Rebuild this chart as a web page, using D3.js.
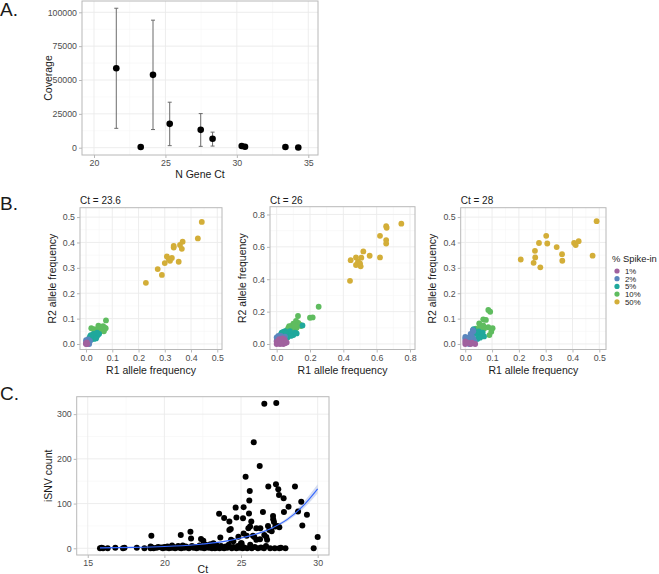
<!DOCTYPE html>
<html><head><meta charset="utf-8">
<script src="https://cdn.jsdelivr.net/npm/d3@7"></script>
<style>body{margin:0;background:#fff}svg{display:block;font-family:"Liberation Sans",Arial,sans-serif}</style>
</head><body><svg id="c" width="659" height="574"></svg>
<script>
// ---------- Panel A data ----------
const aCt  = [21.56, 23.27, 24.13, 25.3, 27.47, 28.3, 30.34, 30.57, 33.4, 34.3];
const aCov = [58700, 500, 53800, 17600, 13200, 6600, 1300, 700, 500, 200];
const aLo  = [14300, null, 13400, 1500, 1000, 1200, null, null, null, null];
const aHi  = [103000, null, 94200, 33600, 25200, 11500, null, null, null, null];
const aXTicks = [20, 25, 30, 35];
const aYTicks = [0, 25000, 50000, 75000, 100000];

// ---------- Panel B data ----------
const spikeLevels = ["1%", "2%", "5%", "10%", "50%"];
const spikeColors = ["#A0619E", "#5A86BD", "#1FA89C", "#5FBC5F", "#D3AE38"];
const b1Titles = ["Ct = 23.6", "Ct = 26", "Ct = 28"];
// Ct = 23.6
const b1_50 = [[0.441,0.481],[0.426,0.416],[0.368,0.403],[0.358,0.39],[0.334,0.386],[0.334,0.38],[0.365,0.375],[0.308,0.345],[0.327,0.339],[0.315,0.335],[0.32,0.328],[0.30,0.319],[0.353,0.324],[0.273,0.295],[0.289,0.272],[0.228,0.241]];
const b1_10 = [[0.076,0.093],[0.047,0.072],[0.055,0.068],[0.065,0.07],[0.07,0.065],[0.02,0.062],[0.03,0.058],[0.06,0.055],[0.068,0.05],[0.045,0.06],[0.04,0.052],[0.075,0.062],[0.035,0.045],[0.05,0.048]];
const b1_5  = [[0.015,0.03],[0.02,0.025],[0.025,0.035],[0.03,0.03],[0.035,0.04],[0.04,0.028],[0.045,0.035],[0.03,0.02],[0.02,0.018],[0.01,0.02],[0.038,0.022],[0.028,0.04],[0.018,0.035],[0.042,0.045],[0.05,0.04]];
const b1_2  = [[0.0,0.015],[0.005,0.01],[0.01,0.005],[0.012,0.0],[0.0,0.005],[0.008,0.018],[0.015,0.012]];
const b1_1  = [[0.0,0.0],[0.002,0.002],[0.005,0.0],[0.0,0.003],[0.003,0.006]];
// Ct = 26
const b2_50 = [[0.748,0.743],[0.657,0.728],[0.66,0.718],[0.62,0.668],[0.657,0.642],[0.657,0.62],[0.52,0.572],[0.558,0.545],[0.476,0.535],[0.62,0.535],[0.444,0.518],[0.508,0.533],[0.488,0.508],[0.476,0.488],[0.5,0.498],[0.504,0.48],[0.44,0.39]];
const b2_10 = [[0.252,0.23],[0.2,0.162],[0.216,0.164],[0.128,0.173],[0.116,0.142],[0.13,0.13],[0.146,0.111],[0.088,0.111],[0.11,0.09],[0.07,0.1],[0.1,0.125],[0.062,0.085],[0.09,0.105],[0.12,0.1],[0.105,0.115],[0.08,0.09],[0.14,0.12],[0.095,0.08],[0.075,0.11]];
const b2_5  = [[0.155,0.115],[0.09,0.06],[0.06,0.055],[0.04,0.075],[0.05,0.08],[0.03,0.07],[0.07,0.07],[0.1,0.055],[0.08,0.08],[0.045,0.06],[0.035,0.05],[0.065,0.04],[0.11,0.07],[0.025,0.06],[0.055,0.065],[0.085,0.05],[0.12,0.065]];
const b2_2  = [[0.0,0.04],[0.01,0.035],[0.02,0.045],[0.03,0.03],[0.0,0.02],[0.015,0.025],[0.04,0.04],[0.025,0.05],[0.005,0.01],[0.035,0.02],[0.05,0.045],[0.01,0.05]];
const b2_1  = [[0.0,0.0],[0.01,0.005],[0.02,0.0],[0.03,0.01],[0.04,0.0],[0.05,0.005],[0.0,0.015],[0.01,0.02],[0.02,0.025],[0.03,0.02],[0.04,0.015],[0.05,0.02],[0.015,0.03],[0.025,0.01],[0.045,0.03],[0.06,0.01],[0.035,0.035]];
// Ct = 28
const b3_50 = [[0.207,0.333],[0.261,0.341],[0.255,0.32],[0.28,0.302],[0.26,0.367],[0.275,0.398],[0.306,0.396],[0.302,0.426],[0.341,0.382],[0.361,0.354],[0.362,0.328],[0.406,0.398],[0.412,0.39],[0.423,0.405],[0.475,0.348],[0.49,0.484]];
const b3_10 = [[0.086,0.134],[0.093,0.127],[0.067,0.097],[0.077,0.095],[0.052,0.081],[0.102,0.062],[0.086,0.066],[0.097,0.048],[0.09,0.035],[0.07,0.06],[0.053,0.06],[0.04,0.06],[0.06,0.044],[0.067,0.073]];
const b3_5  = [[0.031,0.058],[0.03,0.045],[0.04,0.04],[0.05,0.035],[0.045,0.02],[0.06,0.04],[0.07,0.03],[0.055,0.025],[0.035,0.015],[0.05,0.05],[0.025,0.03],[0.065,0.045]];
const b3_2  = [[0.0,0.02],[0.0,0.028],[0.01,0.01],[0.02,0.015],[0.025,0.03],[0.03,0.05],[0.015,0.0],[0.02,0.04],[0.03,0.02],[0.01,0.025],[0.028,0.055],[0.035,0.01]];
const b3_1  = [[0.0,0.0],[0.0,0.01],[0.02,0.0],[0.037,0.0],[0.01,0.005],[0.025,0.005]];
const bXTicks = [[0,0.1,0.2,0.3,0.4,0.5],[0,0.2,0.4,0.6,0.8],[0,0.1,0.2,0.3,0.4,0.5]];
const bYTicks = [[0,0.1,0.2,0.3,0.4,0.5],[0,0.2,0.4,0.6,0.8],[0,0.1,0.2,0.3,0.4,0.5]];

// ---------- Panel C data ----------
const cCt = [15.8,15.9,16.0,16.3,16.8,17.3,17.4,18.2,18.7,19.1,19.1,19.15,19.2,19.3,19.5,19.6,19.8,19.9,20.0,20.1,20.2,20.3,20.4,20.5,20.5,20.6,20.7,20.8,20.9,21.0,21.07,21.1,21.2,21.2,21.3,21.4,21.5,21.6,21.7,21.74,21.8,21.9,22.0,22.1,22.2,22.3,22.39,22.4,22.5,22.54,22.6,22.7,22.7,22.8,22.9,23.0,23.0,23.1,23.1,23.2,23.2,23.3,23.3,23.4,23.4,23.5,23.57,23.6,23.65,23.7,23.8,23.9,23.9,24.0,24.1,24.2,24.24,24.24,24.33,24.35,24.4,24.5,24.5,24.65,24.7,24.7,24.8,24.83,24.9,25.0,25.04,25.07,25.1,25.13,25.17,25.17,25.2,25.3,25.37,25.4,25.48,25.52,25.54,25.57,25.59,25.6,25.67,25.7,25.78,25.83,25.87,25.9,26.0,26.0,26.1,26.22,26.24,26.26,26.3,26.43,26.5,26.52,26.52,26.63,26.65,26.7,26.76,26.78,26.85,26.9,27.0,27.09,27.1,27.15,27.2,27.24,27.28,27.3,27.37,27.43,27.48,27.5,27.5,27.6,27.78,27.8,27.9,28.1,28.52,28.72,28.93,29.0,29.3,29.74,30.0];
const cCount = [0,1,0,0,1,0,1,1,0,0,4,28,2,0,1,3,2,0,3,1,4,0,2,6,1,3,0,2,5,1,30,0,6,3,1,4,2,0,37,22,5,1,3,0,2,6,21,1,4,17,0,8,2,5,1,3,9,0,6,2,11,4,0,7,1,3,77,0,24,5,2,68,0,4,1,8,60,41,43,19,0,16,3,91,69,0,5,26,1,11,11,4,0,67,92,33,2,160,28,0,45,78,107,128,49,8,60,0,28,237,25,3,45,19,0,184,20,45,2,81,0,323,30,5,25,19,50,138,41,0,38,72,65,59,0,49,143,325,50,132,119,47,0,1,112,81,0,93,138,82,104,51,75,0,25];
// fitted trend (with its narrow confidence band)
const fitCt  = [15.8, 18, 20, 22, 24, 25, 26, 27, 28, 29, 30];
const fitVal = [1, 2, 4, 8, 16, 23, 32, 45, 64, 93, 133];
const fitLo  = [0.5, 1.5, 3.4, 7.2, 15, 21.5, 30, 42, 60, 86, 123];
const fitHi  = [1.5, 2.5, 4.6, 8.8, 17, 24.5, 34, 48, 68, 100, 143];
const cXTicks = [15, 20, 25, 30];
const cYTicks = [0, 100, 200, 300];

// ---------- drawing ----------
const svg = d3.select("#c");
const GRID_MAJ = "#EBEBEB", GRID_MIN = "#F5F5F5", BORDER = "#B8B8B8", TICKLAB = "#4D4D4D";

function panel(box, xDom, yDom, xTicks, yTicks, xFmt, yFmt) {
  const x = d3.scaleLinear().domain(xDom).range([box.x0, box.x1]);
  const y = d3.scaleLinear().domain(yDom).range([box.y1, box.y0]);
  const g = svg.append("g");
  const xMin = d3.pairs(xTicks).map(p => (p[0] + p[1]) / 2);
  const yMin = d3.pairs(yTicks).map(p => (p[0] + p[1]) / 2);
  const xs = xTicks[1] - xTicks[0], ys = yTicks[1] - yTicks[0];
  [xTicks[0] - xs / 2, xTicks[xTicks.length - 1] + xs / 2].forEach(v => { if (v > xDom[0] && v < xDom[1]) xMin.push(v); });
  [yTicks[0] - ys / 2, yTicks[yTicks.length - 1] + ys / 2].forEach(v => { if (v > yDom[0] && v < yDom[1]) yMin.push(v); });
  g.selectAll(".xm").data(xMin).join("line").attr("x1", d => x(d)).attr("x2", d => x(d)).attr("y1", box.y0).attr("y2", box.y1).attr("stroke", GRID_MIN).attr("stroke-width", 0.6);
  g.selectAll(".ym").data(yMin).join("line").attr("y1", d => y(d)).attr("y2", d => y(d)).attr("x1", box.x0).attr("x2", box.x1).attr("stroke", GRID_MIN).attr("stroke-width", 0.6);
  g.selectAll(".xM").data(xTicks).join("line").attr("x1", d => x(d)).attr("x2", d => x(d)).attr("y1", box.y0).attr("y2", box.y1).attr("stroke", GRID_MAJ).attr("stroke-width", 0.9);
  g.selectAll(".yM").data(yTicks).join("line").attr("y1", d => y(d)).attr("y2", d => y(d)).attr("x1", box.x0).attr("x2", box.x1).attr("stroke", GRID_MAJ).attr("stroke-width", 0.9);
  const xa = svg.append("g").attr("transform", `translate(0,${box.y1})`)
    .call(d3.axisBottom(x).tickValues(xTicks).tickFormat(xFmt).tickSize(3).tickPadding(2));
  const ya = svg.append("g").attr("transform", `translate(${box.x0},0)`)
    .call(d3.axisLeft(y).tickValues(yTicks).tickFormat(yFmt).tickSize(3).tickPadding(2));
  [xa, ya].forEach(a => {
    a.select(".domain").remove();
    a.selectAll(".tick line").attr("stroke", BORDER);
    a.selectAll(".tick text").attr("fill", TICKLAB).style("font-size", "8.8px").style("font-family", "Liberation Sans, Arial, sans-serif");
  });
  svg.append("rect").attr("x", box.x0).attr("y", box.y0).attr("width", box.x1 - box.x0).attr("height", box.y1 - box.y0)
    .attr("fill", "none").attr("stroke", BORDER).attr("stroke-width", 1);
  return { x, y, marks: g };
}
function label(txt, x, y, size, anchor, rot) {
  const t = svg.append("text").attr("x", x).attr("y", y).attr("font-size", size).attr("text-anchor", anchor || "middle").attr("fill", "#1a1a1a").text(txt);
  if (rot) t.attr("transform", `rotate(-90,${x},${y})`);
  return t;
}

// Panel A
{
  const box = { x0: 82, x1: 318, y0: 1, y1: 155 };
  const p = panel(box, [19.16, 35.68], [-5390, 108350], aXTicks, aYTicks, d3.format("d"), d3.format("d"));
  const g = p.marks;
  aCt.forEach((c, i) => {
    if (aLo[i] == null) return;
    g.append("line").attr("x1", p.x(c)).attr("x2", p.x(c)).attr("y1", p.y(aLo[i])).attr("y2", p.y(aHi[i])).attr("stroke", "#6b6b6b").attr("stroke-width", 1);
    [aLo[i], aHi[i]].forEach(v => g.append("line").attr("x1", p.x(c) - 2).attr("x2", p.x(c) + 2).attr("y1", p.y(v)).attr("y2", p.y(v)).attr("stroke", "#6b6b6b").attr("stroke-width", 1));
  });
  g.selectAll(".pt").data(aCt).join("circle").attr("cx", d => p.x(d)).attr("cy", (d, i) => p.y(aCov[i])).attr("r", 3.3).attr("fill", "#000");
  label("N Gene Ct", (box.x0 + box.x1) / 2, 178, "10.5px");
  label("Coverage", 52, (box.y0 + box.y1) / 2, "10.5px", "middle", true);
  label("A.", 0, 16, "19px", "start");
}

// Panel B
{
  const sets = [[b1_1, b1_2, b1_5, b1_10, b1_50], [b2_1, b2_2, b2_5, b2_10, b2_50], [b3_1, b3_2, b3_5, b3_10, b3_50]];
  const boxes = [{ x0: 80, x1: 222, y0: 207.7, y1: 349.5 }, { x0: 270, x1: 415, y0: 206.7, y1: 349.5 }, { x0: 460.7, x1: 606, y0: 207.7, y1: 349.5 }];
  const xDoms = [[-0.023, 0.518], [-0.04, 0.83], [-0.017, 0.525]];
  const yDoms = [[-0.0217, 0.537], [-0.034, 0.848], [-0.0217, 0.537]];
  const yTitleX = [56, 246, 436];
  boxes.forEach((box, k) => {
    const p = panel(box, xDoms[k], yDoms[k], bXTicks[k], bYTicks[k], d3.format(".1f"), d3.format(".1f"));
    for (let s = 4; s >= 0; s--) {
      p.marks.selectAll(".s" + s).data(sets[k][s]).join("circle").attr("cx", d => p.x(d[0])).attr("cy", d => p.y(d[1])).attr("r", 2.9).attr("fill", spikeColors[s]);
    }
    label(b1Titles[k], box.x0, 204, "10px", "start");
    label("R1 allele frequency", (box.x0 + box.x1) / 2, 374, "10.5px");
    label("R2 allele frequency", yTitleX[k], (box.y0 + box.y1) / 2, "10.5px", "middle", true);
  });
  label("B.", 0, 210, "19px", "start");
  label("% Spike-in", 612, 261.5, "9.4px", "start");
  spikeLevels.forEach((lv, i) => {
    const yy = 271 + i * 7.7;
    svg.append("circle").attr("cx", 617).attr("cy", yy).attr("r", 2.6).attr("fill", spikeColors[i]);
    label(lv, 625, yy + 2.8, "7.8px", "start").attr("fill", "#1a1a1a");
  });
}

// Panel C
{
  const box = { x0: 76.7, x1: 329, y0: 396.7, y1: 555 };
  const p = panel(box, [14.28, 30.74], [-15, 339], cXTicks, cYTicks, d3.format("d"), d3.format("d"));
  const band = fitCt.map((c, i) => ({ c, lo: fitLo[i], hi: fitHi[i], v: fitVal[i] }));
  p.marks.append("path").datum(band).attr("d", d3.area().x(d => p.x(d.c)).y0(d => p.y(d.lo)).y1(d => p.y(d.hi)).curve(d3.curveMonotoneX))
    .attr("fill", "#B8C4E8").attr("opacity", 0.6);
  p.marks.selectAll(".cp").data(cCt).join("circle").attr("cx", d => p.x(d)).attr("cy", (d, i) => p.y(cCount[i])).attr("r", 3).attr("fill", "#000");
  p.marks.append("path").datum(band).attr("d", d3.line().x(d => p.x(d.c)).y(d => p.y(d.v)).curve(d3.curveMonotoneX))
    .attr("fill", "none").attr("stroke", "#3366FF").attr("stroke-width", 1.1);
  label("Ct", (box.x0 + box.x1) / 2, 573, "10.5px");
  label("iSNV count", 52, (box.y0 + box.y1) / 2, "10.5px", "middle", true);
  label("C.", 0, 400, "19px", "start");
}
</script></body></html>
